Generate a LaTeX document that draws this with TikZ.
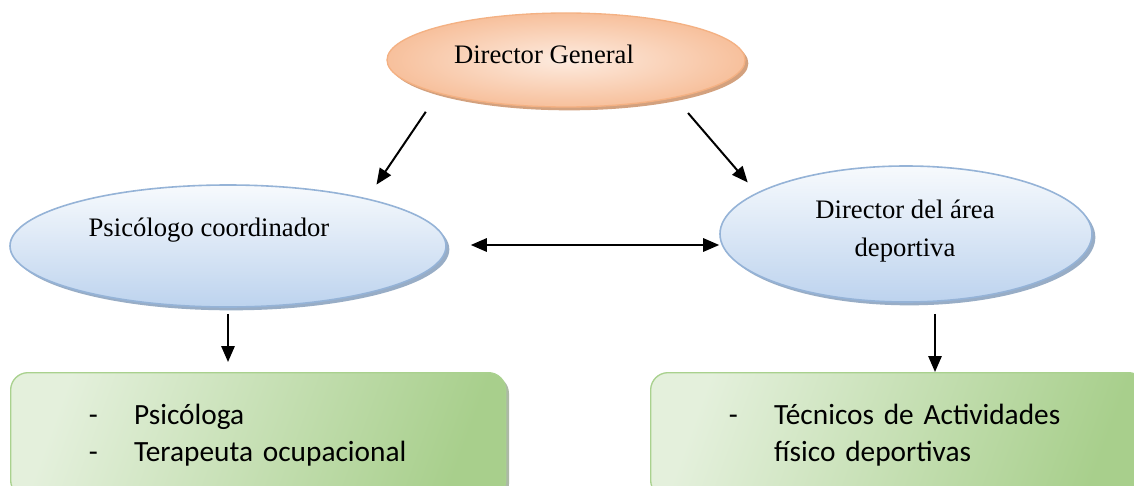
\documentclass[tikz,border=0pt]{standalone}
\usepackage{fontspec}
\setmainfont{Liberation Serif}
\newfontfamily\calibri{Carlito}
\usetikzlibrary{shapes.geometric,shadows,arrows.meta,calc}
\definecolor{orEdge}{HTML}{F4B183}
\definecolor{orIn}{HTML}{FDEBDF}
\definecolor{orOut}{HTML}{F7C09C}
\definecolor{orSh}{HTML}{C98A5E}
\definecolor{blEdge}{HTML}{95B3D7}
\definecolor{blTop}{HTML}{F7FAFD}
\definecolor{blBot}{HTML}{BDD3EE}
\definecolor{blSh}{HTML}{7F99B8}
\definecolor{grEdge}{HTML}{A9D18E}
\definecolor{grL}{HTML}{E4F0DC}
\definecolor{grR}{HTML}{A8CF8C}
\definecolor{grSh}{HTML}{8A9C80}
\tikzset{
  orell/.style={ellipse, draw=orEdge, line width=1pt, inner color=orIn, outer color=orOut,
    minimum width=268.5pt, minimum height=70.5pt,
    drop shadow={shadow xshift=2.5pt, shadow yshift=-2.5pt, fill=orSh, opacity=0.8}},
  blell/.style={ellipse, draw=blEdge, line width=1.2pt, top color=blTop, bottom color=blBot,
    drop shadow={shadow xshift=2.5pt, shadow yshift=-2.5pt, fill=blSh, opacity=0.8}},
  grbox/.style={rectangle, rounded corners=13pt, draw=grEdge, line width=1pt,
    left color=grL, right color=grR, shading angle=70,
    minimum width=371.25pt, minimum height=93.75pt, anchor=north west,
    text width=254pt, align=left, inner xsep=58.5pt,
    font=\calibri\fontsize{22}{27.75}\selectfont,
    drop shadow={shadow xshift=2.5pt, shadow yshift=-2.5pt, fill=grSh, opacity=0.7}},
  etxt/.style={font=\fontsize{20}{28.5}\selectfont, align=center},
  arr/.style={line width=1.5pt, -{Triangle[length=12pt,width=10pt]}},
  darr/.style={line width=1.5pt, {Triangle[length=12pt,width=10pt]}-{Triangle[length=12pt,width=10pt]}}
}
\begin{document}
\begin{tikzpicture}[x=0.75pt,y=-0.75pt]
\useasboundingbox (0,0) rectangle (1134,485);
\clip (0,0) rectangle (1134,485);
\fill[white] (0,0) rectangle (1134,485);
% ellipses
\node[orell] (dg) at (566,60) {};
\node[etxt] (dgt) at (544,54) {Director General};
\node[blell, minimum width=327pt, minimum height=91.5pt] (pc) at (228,246) {};
\node[etxt] (pct) at (209,230) {Psicólogo coordinador};
\node[blell, minimum width=279pt, minimum height=102pt] (dd) at (906,234) {};
\node[etxt] (ddt) at (905,231) {Director del área\\deportiva};
% green boxes
\node[grbox] (lb) at (10,372) {\makebox[34pt][l]{-}Psicóloga\\\makebox[34pt][l]{-}Terapeuta ocupacional};
\node[grbox] (rb) at (650,372) {\makebox[34pt][l]{-}Técnicos de Actividades\\\hspace*{34pt}físico deportivas};
% connectors
\draw[arr] ([shift={(0,22)}]dg.192) -- ([shift={(0,-16)}]pc.17);
\draw[arr] ([shift={(0,18)}]dg.344) -- ([shift={(0,-15)}]dd.167);
\draw[darr] ([shift={(24,-1)}]pc.east) -- ([shift={(0,-1)}]pc.east -| dd.west);
\draw[arr] ([shift={(0,6)}]pc.south) -- ($(pc.south |- lb.north)+(0,-10)$);
\draw[arr] ($(dd.south)+(29,11)$) -- ($(dd.south |- rb.north)+(29,0)$);
\end{tikzpicture}
\end{document}
